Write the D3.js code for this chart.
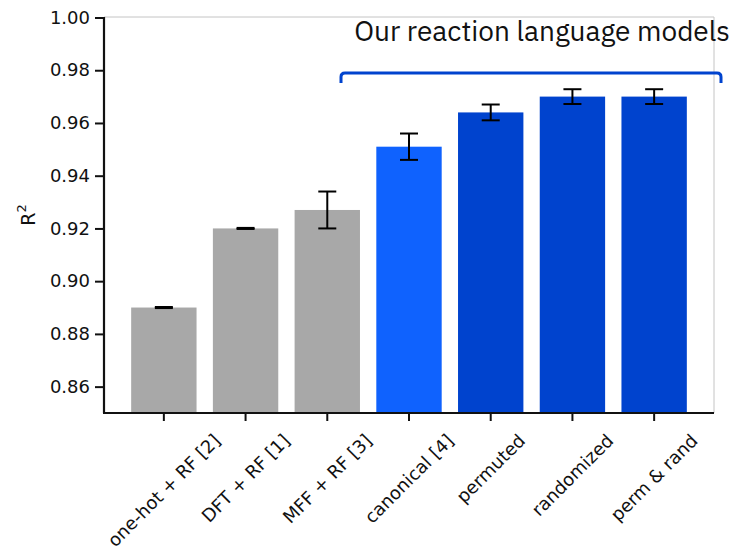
<!DOCTYPE html>
<html><head><meta charset="utf-8">
<script src="https://cdn.jsdelivr.net/npm/d3@7"></script>
<style>body{margin:0;background:#fff}</style>
</head><body>
<svg id="c" width="734" height="555"></svg>
<script>
const categories = ["one-hot + RF [2]", "DFT + RF [1]", "MFF + RF [3]", "canonical [4]", "permuted", "randomized", "perm & rand"];
const values = [0.890, 0.920, 0.927, 0.951, 0.964, 0.970, 0.970];
const errors = [0.0002, 0.0002, 0.007, 0.005, 0.003, 0.0028, 0.0028];
const groups = ["baseline", "baseline", "baseline", "canonical", "ours", "ours", "ours"];
const yTicks = [0.86, 0.88, 0.90, 0.92, 0.94, 0.96, 0.98, 1.00];
const bracketLabel = "Our reaction language models";
const yLabel = "R";

const colors = {baseline: "#a8a8a8", canonical: "#0f62fe", ours: "#0043ce"};
const svg = d3.select("#c");
const L = 104, R = 714, T = 17, B = 413;
const x = d3.scaleBand().domain(categories).range([123, 695]).paddingInner(0.2).paddingOuter(0.1);
const y = d3.scaleLinear().domain([0.85, 1.00]).range([B, T + 0.5]);

// frame top/right
svg.append("line").attr("x1", L).attr("x2", R).attr("y1", T).attr("y2", T).attr("stroke", "#c4c4c4").attr("stroke-width", 1);
svg.append("line").attr("x1", R).attr("x2", R).attr("y1", T).attr("y2", B).attr("stroke", "#c4c4c4").attr("stroke-width", 1);

// bars
svg.selectAll("rect.bar").data(categories).join("rect")
  .attr("x", d => x(d)).attr("width", x.bandwidth())
  .attr("y", (d, i) => y(values[i])).attr("height", (d, i) => B - y(values[i]))
  .attr("fill", (d, i) => colors[groups[i]]);

// error bars
const eb = svg.append("g").attr("stroke", "#000").attr("stroke-width", 2);
categories.forEach((c, i) => {
  const cx = x(c) + x.bandwidth() / 2;
  const y1 = y(values[i] + errors[i]), y2 = y(values[i] - errors[i]);
  eb.append("line").attr("x1", cx).attr("x2", cx).attr("y1", y1).attr("y2", y2);
  eb.append("line").attr("x1", cx - 9).attr("x2", cx + 9).attr("y1", y1).attr("y2", y1);
  eb.append("line").attr("x1", cx - 9).attr("x2", cx + 9).attr("y1", y2).attr("y2", y2);
});

// y axis
const yAxis = svg.append("g").attr("transform", `translate(${L},0)`)
  .call(d3.axisLeft(y).tickValues(yTicks).tickFormat(d3.format(".2f")).tickSize(9).tickPadding(5));
yAxis.select(".domain").attr("stroke", "#111").attr("stroke-width", 2.2).attr("d", `M0,${T}V${B}`);
yAxis.selectAll(".tick line").attr("stroke", "#111").attr("stroke-width", 2);
yAxis.selectAll(".tick text").attr("font-family", "DejaVu Sans").attr("font-size", 18).attr("fill", "#111");

// x axis
const xAxis = svg.append("g").attr("transform", `translate(0,${B})`)
  .call(d3.axisBottom(x).tickSize(8).tickSizeOuter(0).tickPadding(4));
xAxis.select(".domain").attr("stroke", "#111").attr("stroke-width", 2.2).attr("d", `M${L - 1},0H${R}`);
xAxis.selectAll(".tick line").attr("stroke", "#111").attr("stroke-width", 2);
const labelFs = 18, labelTop = 18;
xAxis.selectAll(".tick text").attr("font-family", "DejaVu Sans").attr("font-size", labelFs).attr("fill", "#111")
  .attr("text-anchor", "middle").attr("dy", "0.35em").attr("y", 0)
  .each(function() {
    const len = this.getComputedTextLength();
    const h = (len + labelFs) * Math.SQRT1_2;
    d3.select(this).attr("transform", `translate(0,${labelTop + h / 2}) rotate(-45)`);
  });

// y label
const yl = svg.append("text").attr("transform", "translate(35,215) rotate(-90)")
  .attr("text-anchor", "middle").attr("font-family", "DejaVu Sans").attr("font-size", 19).attr("fill", "#111");
yl.append("tspan").text(yLabel);
yl.append("tspan").attr("font-size", 13).attr("dy", -9).text("2");

// bracket
const bx1 = 341, bx2 = 721, by = 73, bd = 10, r = 4;
svg.append("path")
  .attr("d", `M${bx1},${by + bd}V${by + r}Q${bx1},${by} ${bx1 + r},${by}H${bx2 - r}Q${bx2},${by} ${bx2},${by + r}V${by + bd}`)
  .attr("fill", "none").attr("stroke", "#0043ce").attr("stroke-width", 3);
svg.append("text").attr("x", 730).attr("y", 41).attr("text-anchor", "end")
  .attr("font-family", "IBM Plex Sans, Roboto, sans-serif").attr("font-size", 28).attr("fill", "#111")
  .text(bracketLabel);
</script>
</body></html>
